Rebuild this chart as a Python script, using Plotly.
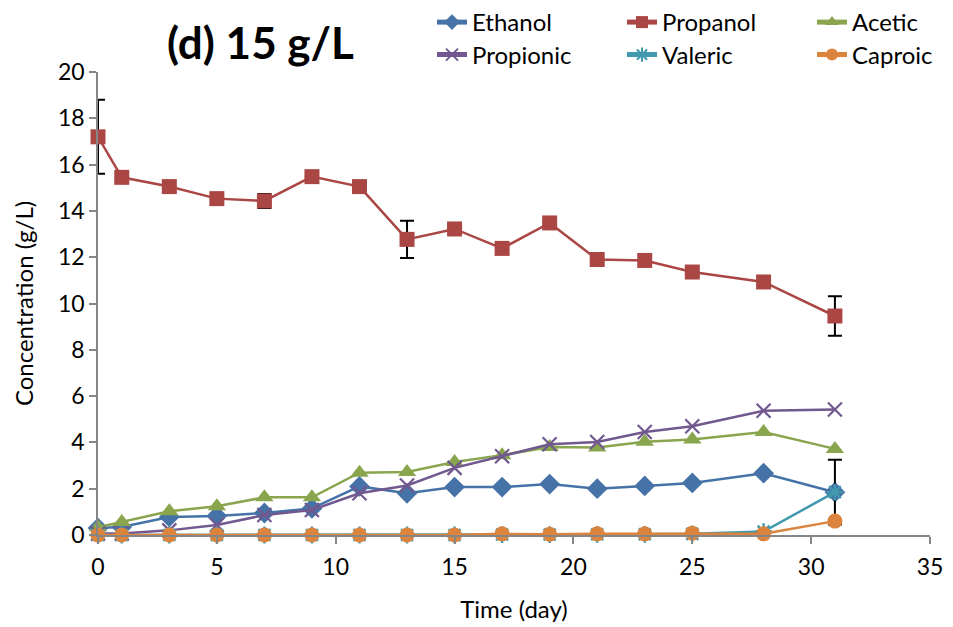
import plotly.graph_objects as go

days = [0, 1, 3, 5, 7, 9, 11, 13, 15, 17, 19, 21, 23, 25, 28, 31]
ethanol = [0.3, 0.35, 0.78, 0.82, 0.95, 1.15, 2.1, 1.8, 2.07, 2.07, 2.2, 2.0, 2.12, 2.25, 2.67, 1.85]
propanol = [17.2, 15.45, 15.05, 14.53, 14.43, 15.48, 15.05, 12.77, 13.22, 12.38, 13.48, 11.9, 11.86, 11.36, 10.93, 9.46]
propanol_err = [1.6, 0, 0, 0, 0.3, 0, 0, 0.8, 0, 0, 0, 0, 0, 0, 0, 0.85]
acetic = [0.33, 0.56, 1.03, 1.24, 1.63, 1.63, 2.69, 2.72, 3.15, 3.45, 3.8, 3.78, 4.03, 4.13, 4.45, 3.72]
propionic = [0.06, 0.06, 0.2, 0.43, 0.86, 1.08, 1.8, 2.14, 2.9, 3.4, 3.92, 4.02, 4.45, 4.7, 5.37, 5.42]
valeric = [0.0, 0.0, 0.0, 0.0, 0.0, 0.0, 0.0, 0.0, 0.0, 0.02, 0.02, 0.03, 0.03, 0.05, 0.15, 1.85]
valeric_err = [0, 0, 0, 0, 0, 0, 0, 0, 0, 0, 0, 0, 0, 0, 0, 1.4]
caproic = [0.0, 0.0, 0.0, 0.0, 0.0, 0.0, 0.0, 0.0, 0.0, 0.05, 0.03, 0.05, 0.05, 0.08, 0.05, 0.6]

FONT = "Lato"

fig = go.Figure()

def add(name, y, color, symbol, size, legend, err=None, mlw=0):
    kw = {}
    if err is not None:
        kw["error_y"] = dict(type="data", array=err, visible=True, color="black",
                             thickness=2, width=7)
    fig.add_trace(go.Scatter(
        x=days, y=y, name=name, mode="lines+markers", cliponaxis=False,
        line=dict(color=color, width=2.5),
        marker=dict(symbol=symbol, size=size, color=color,
                    line=dict(color=color, width=mlw)),
        legend=legend, **kw))

add("Ethanol", ethanol, "#4572A7", "diamond", 16, "legend")
add("Propanol", propanol, "#AA4643", "square", 15, "legend", err=propanol_err)
add("Acetic", acetic, "#89A54E", "triangle-up", 16, "legend")
add("Propionic", propionic, "#71588F", "x-thin", 14, "legend2", mlw=2.2)
add("Valeric", valeric, "#4198AF", "asterisk", 14, "legend2", err=valeric_err, mlw=2.4)
add("Caproic", caproic, "#DB843D", "circle", 15, "legend2")

axis_common = dict(showline=True, linecolor="#868686", linewidth=1.5,
                   ticks="outside", ticklen=7, tickcolor="#868686", tickwidth=1.5,
                   showgrid=False, zeroline=False,
                   tickfont=dict(family=FONT, size=23, color="black"))

fig.update_xaxes(range=[0, 35], tickvals=[0, 5, 10, 15, 20, 25, 30, 35],
                 ticklabelstandoff=4,
                 title=dict(text="Time (day)", font=dict(family=FONT, size=24, color="black"), standoff=22),
                 **axis_common)
fig.update_yaxes(range=[0, 20], tickvals=list(range(0, 21, 2)),
                 title=dict(text="Concentration (g/L)", font=dict(family=FONT, size=24, color="black"), standoff=18),
                 **axis_common)

leg_common = dict(orientation="h", xanchor="left",
                  font=dict(family=FONT, size=24, color="black"),
                  entrywidth=145, entrywidthmode="pixels",
                  bgcolor="rgba(0,0,0,0)", itemsizing="constant")

# body margin removed via post_script: plot area at x 98-930, y 72-535
fig.update_layout(
    width=953, height=627,
    margin=dict(l=98, r=23, t=72, b=92, autoexpand=False),
    plot_bgcolor="white", paper_bgcolor="white",
    font=dict(family=FONT, color="black"),
    showlegend=True,
    legend=dict(x=(432 - 98) / 832, y=1 + 72 / 463, yanchor="top", **leg_common),
    legend2=dict(x=(432 - 98) / 832, y=1 + (72 - 55) / 463, yanchor="middle", **leg_common),
    annotations=[dict(text="<b>(d) 15 g/L</b>", xref="paper", yref="paper",
                      x=(260 - 98) / 832, y=1 + (72 - 42) / 463,
                      xanchor="center", yanchor="middle", showarrow=False,
                      font=dict(family=FONT, size=44, color="black"))],
)

fig.write_html("out.html", config={"displayModeBar": False},
               post_script="document.body.style.margin='0px';")
